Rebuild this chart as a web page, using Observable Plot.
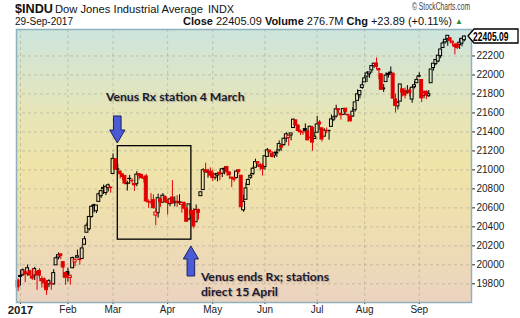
<!DOCTYPE html>
<html><head><meta charset="utf-8">
<script src="https://cdn.jsdelivr.net/npm/d3@7"></script>
<script src="https://cdn.jsdelivr.net/npm/@observablehq/plot@0.6"></script>
<style>
body{margin:0;background:#fff;width:520px;height:318px;overflow:hidden;font-family:"Liberation Sans",Arial,sans-serif;color:#111;}
#hdr{display:block;}
</style></head><body>
<svg id="hdr" width="520" height="27" font-family="'Liberation Sans', Arial, sans-serif" fill="#111">
  <text x="15" y="12.5" font-size="13" font-weight="bold" textLength="38" lengthAdjust="spacingAndGlyphs">$INDU</text>
  <text x="55" y="12.5" font-size="11" textLength="148" lengthAdjust="spacingAndGlyphs">Dow Jones Industrial Average</text>
  <text x="208" y="12.5" font-size="10.5" textLength="26" lengthAdjust="spacingAndGlyphs">INDX</text>
  <text x="412" y="10" font-size="10" fill="#444" textLength="58" lengthAdjust="spacingAndGlyphs">&#169; StockCharts.com</text>
  <text x="15" y="25" font-size="10" textLength="58" lengthAdjust="spacingAndGlyphs">29-Sep-2017</text>
  <text x="183" y="25" font-size="11" textLength="269" lengthAdjust="spacingAndGlyphs"><tspan font-weight="bold">Close</tspan> 22405.09 <tspan font-weight="bold">Volume</tspan> 276.7M <tspan font-weight="bold">Chg</tspan> +23.89 (+0.11%)</text>
  <text x="455" y="24" font-size="8" fill="#2e8b2e">&#9650;</text>
</svg>
<div id="chart"></div>
<script>
const dates = ["2016-12-30",
"2017-01-03","2017-01-04","2017-01-05","2017-01-06","2017-01-09","2017-01-10","2017-01-11","2017-01-12","2017-01-13","2017-01-17","2017-01-18","2017-01-19","2017-01-20","2017-01-23","2017-01-24","2017-01-25","2017-01-26","2017-01-27","2017-01-30","2017-01-31",
"2017-02-01","2017-02-02","2017-02-03","2017-02-06","2017-02-07","2017-02-08","2017-02-09","2017-02-10","2017-02-13","2017-02-14","2017-02-15","2017-02-16","2017-02-17","2017-02-21","2017-02-22","2017-02-23","2017-02-24","2017-02-27","2017-02-28",
"2017-03-01","2017-03-02","2017-03-03","2017-03-06","2017-03-07","2017-03-08","2017-03-09","2017-03-10","2017-03-13","2017-03-14","2017-03-15","2017-03-16","2017-03-17","2017-03-20","2017-03-21","2017-03-22","2017-03-23","2017-03-24","2017-03-27","2017-03-28","2017-03-29","2017-03-30","2017-03-31",
"2017-04-03","2017-04-04","2017-04-05","2017-04-06","2017-04-07","2017-04-10","2017-04-11","2017-04-12","2017-04-13","2017-04-17","2017-04-18","2017-04-19","2017-04-20","2017-04-21","2017-04-24","2017-04-25","2017-04-26","2017-04-27","2017-04-28",
"2017-05-01","2017-05-02","2017-05-03","2017-05-04","2017-05-05","2017-05-08","2017-05-09","2017-05-10","2017-05-11","2017-05-12","2017-05-15","2017-05-16","2017-05-17","2017-05-18","2017-05-19","2017-05-22","2017-05-23","2017-05-24","2017-05-25","2017-05-26","2017-05-30","2017-05-31",
"2017-06-01","2017-06-02","2017-06-05","2017-06-06","2017-06-07","2017-06-08","2017-06-09","2017-06-12","2017-06-13","2017-06-14","2017-06-15","2017-06-16","2017-06-19","2017-06-20","2017-06-21","2017-06-22","2017-06-23","2017-06-26","2017-06-27","2017-06-28","2017-06-29","2017-06-30",
"2017-07-03","2017-07-05","2017-07-06","2017-07-07","2017-07-10","2017-07-11","2017-07-12","2017-07-13","2017-07-14","2017-07-17","2017-07-18","2017-07-19","2017-07-20","2017-07-21","2017-07-24","2017-07-25","2017-07-26","2017-07-27","2017-07-28","2017-07-31",
"2017-08-01","2017-08-02","2017-08-03","2017-08-04","2017-08-07","2017-08-08","2017-08-09","2017-08-10","2017-08-11","2017-08-14","2017-08-15","2017-08-16","2017-08-17","2017-08-18","2017-08-21","2017-08-22","2017-08-23","2017-08-24","2017-08-25","2017-08-28","2017-08-29","2017-08-30","2017-08-31",
"2017-09-01","2017-09-05","2017-09-06","2017-09-07","2017-09-08","2017-09-11","2017-09-12","2017-09-13","2017-09-14","2017-09-15","2017-09-18","2017-09-19","2017-09-20","2017-09-21","2017-09-22","2017-09-25","2017-09-26","2017-09-27","2017-09-28","2017-09-29"];

const open = [19833,
19872,19890,19924,19906,19931,19876,19887,19926,19935,19848,19848,19811,19795,19795,19794,19994,20076,20110,20028,19913,
19923,19861,19964,20025,20075,20049,20061,20211,20338,20374,20504,20627,20564,20663,20723,20797,20756,20808,20808,
20957,21112,21001,20983,20951,20936,20850,20906,20884,20852,20849,20955,20947,20911,20931,20657,20656,20681,20519,20544,20687,20655,20713,
20665,20639,20709,20649,20664,20649,20631,20650,20584,20479,20568,20566,20448,20577,20723,20787,20996,20972,20981,
20962,20917,20941,20969,20959,21002,21031,20974,20910,20910,20915,20996,20939,20574,20685,20840,20917,20957,21023,21069,21050,21044,
21030,21137,21202,21169,21150,21174,21206,21249,21261,21330,21336,21362,21441,21521,21467,21404,21392,21430,21404,21338,21443,21325,
21392,21499,21438,21350,21409,21409,21453,21530,21562,21639,21592,21579,21645,21573,21563,21562,21629,21727,21787,21863,
21922,21983,22007,22048,22093,22121,22062,22008,21848,21925,22011,22020,22014,21742,21669,21719,21849,21834,21824,21836,21741,21871,21913,
21982,21947,21782,21822,21776,21913,22073,22115,22142,22198,22284,22343,22378,22386,22334,22315,22322,22315,22330,22366];

const high = [19853,
19938,19956,19948,19999,19943,19957,19973,19929,19958,19877,19862,19837,19843,19833,19949,20082,20125,20116,20028,19914,
19966,19889,20081,20062,20155,20067,20206,20298,20441,20505,20620,20639,20625,20757,20787,20840,20822,20851,20820,
21169,21112,21060,20983,20960,20941,20882,20942,20907,20853,20981,20960,20950,20932,20953,20685,20750,20737,20594,20745,20700,20750,20724,
20686,20698,20887,20715,20729,20738,20667,20662,20602,20637,20589,20593,20630,20588,20768,21012,21070,21006,21021,
20999,20956,20970,20998,21007,21032,21032,20974,20920,20927,21000,21001,20939,20732,20860,20905,20959,21030,21113,21089,21070,21065,
21145,21226,21210,21194,21186,21213,21305,21272,21329,21392,21360,21385,21535,21523,21474,21421,21411,21484,21416,21460,21459,21395,
21562,21519,21438,21432,21441,21420,21579,21566,21681,21639,21592,21641,21645,21583,21565,21654,21712,21843,21835,21929,
21990,22036,22027,22093,22122,22179,22070,22008,21901,22022,22028,22084,22016,21798,21720,21900,21849,21862,21888,21854,21877,21932,21981,
22023,21947,21831,21834,21835,22058,22119,22159,22204,22275,22349,22371,22413,22394,22358,22332,22343,22381,22382,22411];

const low = [19718,
19775,19878,19811,19880,19887,19836,19835,19732,19850,19755,19753,19678,19759,19732,19786,19994,20052,20054,19860,19785,
19818,19787,19960,19979,20063,19995,20061,20211,20338,20357,20492,20546,20540,20663,20700,20741,20729,20767,20754,
20957,20997,20960,20904,20890,20842,20777,20847,20855,20773,20822,20894,20907,20862,20656,20595,20633,20587,20412,20492,20606,20648,20660,
20523,20611,20636,20610,20603,20626,20543,20575,20453,20463,20473,20379,20448,20472,20723,20787,20964,20913,20929,
20878,20892,20874,20885,20918,20948,20934,20899,20813,20870,20905,20951,20605,20553,20685,20836,20900,20940,21023,21029,20990,20935,
20996,21137,21174,21125,21121,21131,21189,21196,21250,21286,21249,21306,21441,21465,21390,21362,21364,21386,21310,21338,21197,21325,
21392,21420,21294,21350,21381,21313,21453,21508,21546,21595,21525,21576,21577,21499,21500,21554,21610,21727,21747,21848,
21922,21920,21964,22017,22070,22057,21950,21843,21816,21925,21966,21996,21750,21600,21631,21719,21769,21747,21797,21769,21701,21853,21913,
21972,21709,21749,21740,21764,21913,22041,22097,22130,22172,22284,22327,22302,22336,22305,22212,22267,22269,22297,22349];

const close = [19762.60,
19881.76,19942.16,19899.29,19963.80,19887.38,19855.53,19954.28,19891.00,19885.73,19826.77,19804.72,19732.40,19827.25,19799.85,19912.71,20068.51,20100.91,20093.78,19971.13,19864.09,
19890.94,19884.91,20071.46,20052.42,20090.29,20054.34,20172.40,20269.37,20412.16,20504.41,20611.86,20619.77,20624.05,20743.00,20775.60,20810.32,20821.76,20837.44,20812.24,
21115.55,21002.97,21005.71,20954.34,20924.76,20855.73,20858.19,20902.98,20881.48,20837.37,20950.10,20934.55,20914.62,20905.86,20668.01,20661.30,20656.58,20596.72,20550.98,20701.50,20659.32,20728.49,20663.22,
20650.21,20689.24,20648.15,20662.95,20656.10,20658.02,20651.30,20591.86,20453.25,20636.92,20523.28,20404.49,20578.71,20547.76,20763.89,20996.12,20975.09,20981.33,20940.51,
20913.46,20949.89,20957.90,20951.47,21006.94,21012.28,20975.78,20943.11,20919.42,20896.61,20981.94,20979.75,20606.93,20663.02,20804.84,20894.83,20937.91,21012.42,21082.95,21080.28,21029.47,21008.65,
21144.18,21206.29,21184.04,21136.23,21173.69,21182.53,21271.97,21235.67,21328.47,21374.56,21359.90,21384.28,21528.99,21467.14,21410.03,21397.29,21394.76,21409.55,21310.66,21454.61,21287.03,21349.63,
21479.27,21478.17,21320.04,21414.34,21408.52,21409.07,21532.14,21553.09,21637.74,21629.72,21574.73,21640.75,21611.78,21580.07,21513.17,21613.43,21711.01,21796.55,21830.31,21891.12,
21963.92,22016.24,22026.10,22092.81,22118.42,22085.34,22048.70,21844.01,21858.32,21993.71,21998.99,22024.87,21750.73,21674.51,21703.75,21899.89,21812.09,21783.40,21813.67,21808.40,21865.37,21892.43,21948.10,
21987.56,21753.31,21807.64,21784.78,21797.79,22057.37,22118.86,22158.18,22203.48,22268.34,22331.35,22370.80,22412.59,22359.23,22349.59,22296.09,22284.32,22340.71,22381.20,22405.09];

const priorClose = 19819.78; // 29-Dec-2016

const yTicks = [19800,20000,20200,20400,20600,20800,21000,21200,21400,21600,21800,22000,22200];
const monthTickDates = ["2017-01-03","2017-02-01","2017-03-01","2017-04-03","2017-05-01","2017-06-01","2017-07-03","2017-08-01","2017-09-01"];
const monthTickLabels = ["2017","Feb","Mar","Apr","May","Jun","Jul","Aug","Sep"];

const boxDates = ["2017-03-03","2017-04-18"];
const boxRange = [20265, 21250];

const arrowDates = ["2017-03-03","2017-04-18"];
const arrowTips = [21278, 20193];
const arrowTails = [21563, 19877];

const noteDates = ["2017-02-24","2017-04-24"];
const noteValues = [21840, 19935];
const noteTexts = ["Venus Rx station 4 March", "Venus ends Rx; stations\ndirect 15 April"];

const idx = d => dates.indexOf(d);
const bars = dates.map((d, i) => {
  const prev = i ? close[i - 1] : priorClose;
  return {i, o: open[i], h: high[i], l: low[i], c: close[i], red: close[i] < prev, hollow: close[i] > open[i]};
});
const tickIdx = monthTickDates.map(idx);
const notes = noteDates.map((d, k) => ({x: idx(d), y: noteValues[k], t: noteTexts[k]}));
const RED = "#e10000", BLK = "#000";
const hw = 0.62;

function candleMarks(isRed) {
  const col = isRed ? RED : BLK;
  const sub = bars.filter(b => b.red === isRed);
  return [
    Plot.ruleX(sub, {x: "i", y1: "l", y2: "h", stroke: col, strokeWidth: 1}),
    Plot.rect(sub.filter(b => !b.hollow), {x1: b => b.i - hw, x2: b => b.i + hw, y1: "o", y2: "c", fill: col, stroke: col, strokeWidth: 1}),
    Plot.rect(sub.filter(b => b.hollow), {x1: b => b.i - hw, x2: b => b.i + hw, y1: "o", y2: "c", fill: "url(#bg)", stroke: col, strokeWidth: 1})
  ];
}

function blockArrows(index, scales) {
  const g = d3.create("svg:g");
  arrowDates.forEach((d, k) => {
    const x = scales.x(idx(d));
    const yt = scales.y(arrowTips[k]), ya = scales.y(arrowTails[k]);
    const dir = Math.sign(yt - ya);
    const hl = 13 * dir, sw = 3.8, hwid = 7.6;
    const yb = yt - hl;
    g.append("path")
      .attr("d", `M${x - sw},${ya}L${x + sw},${ya}L${x + sw},${yb}L${x + hwid},${yb}L${x},${yt}L${x - hwid},${yb}L${x - sw},${yb}Z`)
      .attr("fill", "#4b5bd6").attr("stroke", "#1b2260").attr("stroke-width", 1);
  });
  return g.node();
}

function priceLabel(index, scales, values, dims) {
  const v = close[close.length - 1];
  const y = scales.y(v);
  const x0 = dims.width - dims.marginRight - 3;
  const W = dims.width - 2;
  const g = d3.create("svg:g");
  g.append("path")
    .attr("d", `M${x0},${y}L${x0 + 6},${y - 7}L${W},${y - 7}L${W},${y + 7}L${x0 + 6},${y + 7}Z`)
    .attr("fill", "#fff").attr("stroke", "#000").attr("stroke-width", 1.3);
  g.append("text")
    .attr("transform", `translate(${x0 + 5},${y + 0.3}) scale(0.63,1)`)
    .attr("dy", "0.36em")
    .attr("text-anchor", "start")
    .attr("font-weight", "bold").attr("font-size", 13.5)
    .attr("font-family", "'Liberation Sans', Arial, sans-serif")
    .attr("fill", "#000").text(v.toFixed(2));
  return g.node();
}

const chart = Plot.plot({
  width: 520, height: 291,
  marginTop: 2, marginBottom: 16, marginLeft: 16, marginRight: 49,
  style: {fontFamily: "'Liberation Sans', Arial, sans-serif", fontSize: "10px", color: "#222", background: "transparent"},
  x: {domain: [-0.67, 191], ticks: tickIdx, tickFormat: i => monthTickLabels[tickIdx.indexOf(i)], tickSize: 2, tickPadding: 1, label: null},
  y: {domain: [19603, 22479], ticks: yTicks, tickFormat: d => String(d), tickSize: 3, tickPadding: 2, axis: "right", label: null},
  marks: [
    Plot.frame({fill: "url(#bg)", stroke: "none"}),
    Plot.ruleY(yTicks, {stroke: "#9a9680", strokeOpacity: 0.45, strokeDasharray: "3,3"}),
    Plot.ruleX(tickIdx, {stroke: "#9a9680", strokeOpacity: 0.45, strokeDasharray: "3,3"}),
    Plot.rect([0], {x1: () => idx(boxDates[0]), x2: () => idx(boxDates[1]), y1: () => boxRange[0], y2: () => boxRange[1], fill: "none", stroke: "#000", strokeWidth: 1.3}),
    ...candleMarks(false),
    ...candleMarks(true),
    blockArrows,
    Plot.text(notes, {x: "x", y: "y", text: "t", textAnchor: "start", lineAnchor: "top", lineHeight: 1.2,
      fontFamily: "Lato, 'Open Sans', sans-serif", fontWeight: "bold", fontSize: 12.2, fill: "#1a1a33"}),
    Plot.frame({stroke: "#8fb0bd", strokeWidth: 1.5}),
    priceLabel
  ]
});

const svg = d3.select(chart);
const grad = svg.insert("defs", ":first-child").append("linearGradient")
  .attr("id", "bg").attr("gradientUnits", "userSpaceOnUse")
  .attr("x1", 0).attr("x2", 0).attr("y1", 2).attr("y2", 275);
[[0, "#cde5dd"], [0.3, "#e6e5b8"], [0.5, "#efe4a9"], [0.72, "#efdeb0"], [1, "#ebd3c0"]]
  .forEach(([o, c]) => grad.append("stop").attr("offset", o).attr("stop-color", c));
svg.selectAll("text").each(function() {
  const t = d3.select(this);
  if (t.text() === "2017") t.attr("font-weight", "bold").attr("font-size", 11.5);
  if (t.text().startsWith("Venus")) t.style("text-shadow", "1px 1px 1px rgba(0,0,0,0.25)");
});
document.getElementById("chart").appendChild(chart);
</script>
</body></html>
